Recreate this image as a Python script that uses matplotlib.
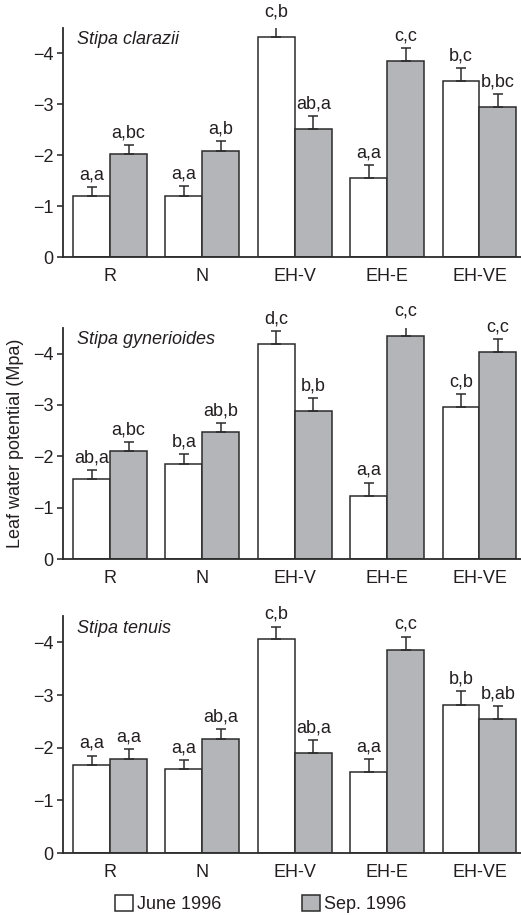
import matplotlib
matplotlib.use("Agg")
import matplotlib.pyplot as plt
import numpy as np
from matplotlib.patches import Patch

plt.rcParams['font.family'] = ['Liberation Sans', 'DejaVu Sans']
plt.rcParams['font.size'] = 13

TXT = '#231f20'
EDGE = '#2b2b2b'
GRAY = '#b4b5b9'

sites = ["R", "N", "EH-V", "EH-E", "EH-VE"]
species = ["Stipa clarazii", "Stipa gynerioides", "Stipa tenuis"]

# leaf water potential (MPa), mean and SE
june = [
    [-1.20, -1.20, -4.33, -1.56, -3.46],
    [-1.56, -1.86, -4.19, -1.23, -2.96],
    [-1.67, -1.59, -4.06, -1.53, -2.81],
]
june_se = [
    [0.17, 0.19, 0.25, 0.25, 0.26],
    [0.18, 0.19, 0.25, 0.26, 0.25],
    [0.18, 0.18, 0.24, 0.25, 0.26],
]
sep = [
    [-2.02, -2.09, -2.51, -3.86, -2.95],
    [-2.10, -2.47, -2.88, -4.34, -4.04],
    [-1.79, -2.17, -1.89, -3.85, -2.55],
]
sep_se = [
    [0.18, 0.18, 0.26, 0.25, 0.25],
    [0.18, 0.17, 0.26, 0.26, 0.25],
    [0.18, 0.18, 0.26, 0.26, 0.24],
]
june_lbl = [
    ["a,a", "a,a", "c,b", "a,a", "b,c"],
    ["ab,a", "b,a", "d,c", "a,a", "c,b"],
    ["a,a", "a,a", "c,b", "a,a", "b,b"],
]
sep_lbl = [
    ["a,bc", "a,b", "ab,a", "c,c", "b,bc"],
    ["a,bc", "ab,b", "b,b", "c,c", "c,c"],
    ["a,a", "ab,a", "ab,a", "c,c", "b,ab"],
]

fig = plt.figure(figsize=(5.21, 9.15), dpi=100)
W, H = 521, 915
# axes boxes in pixels: left, top, right, bottom
boxes = [(63, 28, 521, 257), (63, 328, 521, 559), (63, 616, 521, 853)]

x = np.arange(len(sites))
bw = 0.4

for i, (l, t, r, b) in enumerate(boxes):
    ax = fig.add_axes([l / W, 1 - b / H, (r - l) / W, (b - t) / H])
    ekw = dict(ecolor=EDGE, elinewidth=1.1, capsize=3.5, capthick=1.1)
    # values are negative, error bars point to more negative values only
    ax.bar(x - bw / 2, june[i], bw, color='white', edgecolor=EDGE, linewidth=1.1,
           yerr=[june_se[i], np.zeros(5)], error_kw=ekw, zorder=2)
    ax.bar(x + bw / 2, sep[i], bw, color=GRAY, edgecolor=EDGE, linewidth=1.1,
           yerr=[sep_se[i], np.zeros(5)], error_kw=ekw, zorder=2)
    for j in range(5):
        ax.text(x[j] - bw / 2, june[i][j] - june_se[i][j] - 0.07, june_lbl[i][j],
                ha='center', va='bottom', color=TXT, fontsize=13)
        ax.text(x[j] + bw / 2, sep[i][j] - sep_se[i][j] - 0.07, sep_lbl[i][j],
                ha='center', va='bottom', color=TXT, fontsize=13)
    ax.set_ylim(0, -4.5)
    ax.set_xlim(-0.51, 4.45)
    ax.set_yticks([0, -1, -2, -3, -4])
    ax.set_yticklabels(["0", "\u22121", "\u22122", "\u22123", "\u22124"])
    ax.set_xticks(x)
    ax.set_xticklabels(sites)
    ax.tick_params(axis='x', length=0, pad=8, colors=TXT, labelsize=13)
    ax.tick_params(axis='y', length=4, width=1.1, direction='out', pad=3,
                   colors=TXT, labelsize=13)
    for s in ['top', 'right']:
        ax.spines[s].set_visible(False)
    for s in ['left', 'bottom']:
        ax.spines[s].set_color(EDGE)
        ax.spines[s].set_linewidth(1.3)
    ax.text(0.03, 0.985, species[i], transform=ax.transAxes, style='italic',
            ha='left', va='top', color=TXT, fontsize=13)
    if i == 1:
        ax.set_ylabel("Leaf water potential (Mpa)", color=TXT, fontsize=13, labelpad=6)

handles = [Patch(facecolor='white', edgecolor=EDGE, linewidth=1.1),
           Patch(facecolor=GRAY, edgecolor=EDGE, linewidth=1.1)]
fig.legend(handles, ["June 1996", "Sep. 1996"], loc='center',
           bbox_to_anchor=(0.5, 1 - 904 / H), ncol=2, frameon=False,
           handlelength=1.0, handleheight=1.0, handletextpad=0.2,
           columnspacing=4.5, fontsize=13, labelcolor=TXT)

fig.savefig("out.png", dpi=100)
